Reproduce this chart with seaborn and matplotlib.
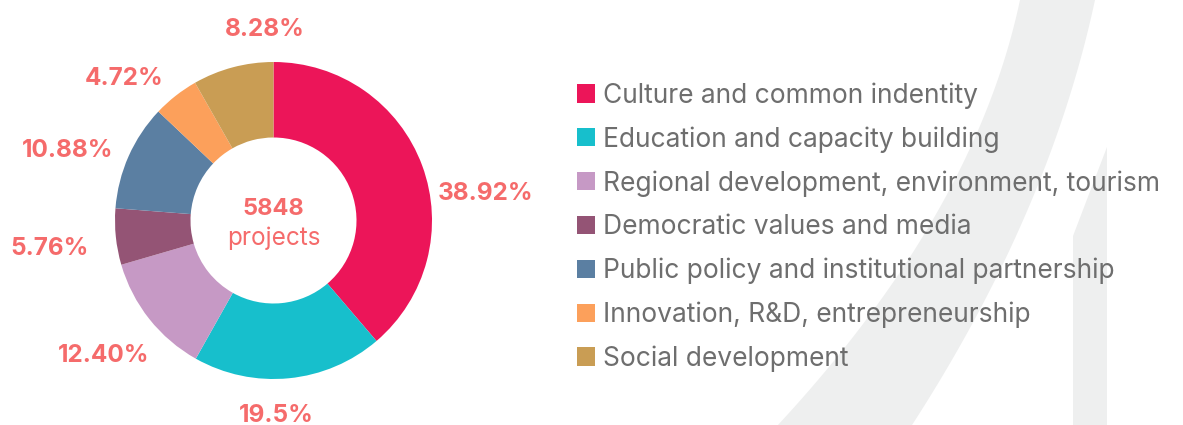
import matplotlib
matplotlib.use("Agg")
import matplotlib.pyplot as plt
from matplotlib.patches import Patch
import numpy as np
import seaborn as sns

# ---- data -------------------------------------------------------------
categories = [
    "Culture and common indentity",
    "Education and capacity building",
    "Regional development, environment, tourism",
    "Democratic values and media",
    "Public policy and institutional partnership",
    "Innovation, R&D, entrepreneurship",
    "Social development",
]
shares = [38.92, 19.5, 12.40, 5.76, 10.88, 4.72, 8.28]
share_labels = ["38.92%", "19.5%", "12.40%", "5.76%", "10.88%", "4.72%", "8.28%"]
total_projects = 5848
center_caption = "projects"

# ---- style ------------------------------------------------------------
colors = ["#ec1559", "#17bfcc", "#c699c5", "#945475", "#5b7fa2", "#fca05b", "#c99d54"]
label_color = "#f56b6b"
legend_text_color = "#6e6e6e"
deco_color = "#eeefef"

# label placement: angular nudge (deg) and distance (in pie radii)
label_shift = [-12.2, -4.8, -0.5, 0.6, 4.5, 7.7, -12.3]
label_dist = [1.349, 1.211, 1.356, 1.419, 1.376, 1.316, 1.224]
label_drop = 3  # px, optical correction for vertical centring

sns.set_theme(style="white")
plt.rcParams["font.family"] = ["Inter", "DejaVu Sans"]

W, H = 1183, 425
fig = plt.figure(figsize=(W / 100, H / 100), dpi=100)
ax = fig.add_axes([0, 0, 1, 1])

# background decoration: sweeping stroke and upright bar
ys = np.linspace(0, H, 60)
left_edge = 1020 - 0.2121 * ys - 0.000841 * ys ** 2
right_edge = 1095 - 0.2146 * ys - 0.000508 * ys ** 2
stroke_x = np.concatenate([left_edge, right_edge[::-1]])
stroke_y = np.concatenate([H - ys, (H - ys)[::-1]])
ax.fill(stroke_x, stroke_y, color=deco_color, lw=0, zorder=0)
ax.fill([1073, 1107, 1107, 1073], [0, 0, H - 147, H - 236], color=deco_color, lw=0, zorder=0)

# donut
cx, cy = 273.5, H - 220.5
r_out, r_in = 158.5, 83.0
wedges, _ = ax.pie(
    shares,
    colors=colors,
    startangle=90,
    counterclock=False,
    radius=r_out,
    center=(cx, cy),
    wedgeprops=dict(width=r_out - r_in, edgecolor="none", linewidth=0),
)

for w, lab, dth, dist in zip(wedges, share_labels, label_shift, label_dist):
    mid = np.deg2rad((w.theta1 + w.theta2) / 2 + dth)
    x = cx + dist * r_out * np.cos(mid)
    y = cy + dist * r_out * np.sin(mid) - label_drop
    ax.text(x, y, lab, ha="center", va="center", fontsize=17.5,
            fontweight="bold", color=label_color)

ax.text(cx, H - 215, f"{total_projects}", ha="center", va="baseline",
        fontsize=17, fontweight="bold", color=label_color)
ax.text(cx, H - 245, center_caption, ha="center", va="baseline",
        fontsize=17.5, color=label_color)

handles = [Patch(facecolor=c, edgecolor="none") for c in colors]
ax.legend(
    handles, categories,
    loc="center left", bbox_to_anchor=(577, H - 227), bbox_transform=ax.transData,
    frameon=False, fontsize=19, labelcolor=legend_text_color,
    handlelength=0.68, handleheight=0.68, handletextpad=0.30,
    labelspacing=0.66, borderpad=0, borderaxespad=0,
)

ax.set_xlim(0, W)
ax.set_ylim(0, H)
ax.set_aspect("equal", adjustable="box")
ax.axis("off")

fig.savefig("out.png", dpi=100, facecolor="white")
